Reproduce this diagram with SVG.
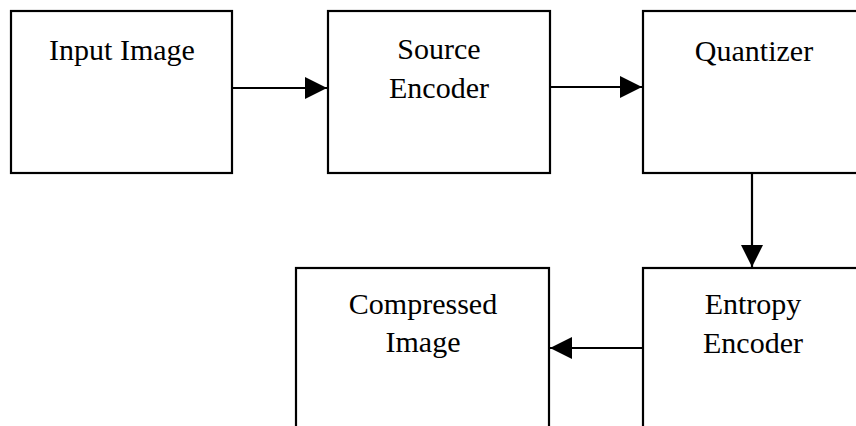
<svg xmlns="http://www.w3.org/2000/svg" width="856" height="426" viewBox="0 0 856 426">
<style>
.box{fill:#fff;stroke:#000;stroke-width:2.2}
.lbl{font-family:'Liberation Serif','Times New Roman','DejaVu Serif',serif;font-size:30px;fill:#000;text-anchor:middle}
.conn{stroke:#000;stroke-width:2.2;fill:none}
</style>
<defs>
<marker id="ah" markerUnits="userSpaceOnUse" markerWidth="24" markerHeight="22" refX="22" refY="11" orient="auto">
<path d="M0,0 L22,11 L0,22 Z" fill="#000"/>
</marker>
</defs>
<rect width="856" height="426" fill="#fff"/>
<g id="input-image">
<rect class="box" x="11" y="11" width="221" height="162"/>
<text class="lbl" x="122" y="60">Input Image</text>
</g>
<g id="source-encoder">
<rect class="box" x="328" y="11" width="222" height="162"/>
<text class="lbl" x="439" y="59">Source</text>
<text class="lbl" x="439" y="98">Encoder</text>
</g>
<g id="quantizer">
<rect class="box" x="643" y="11" width="230" height="162"/>
<text class="lbl" x="754" y="61">Quantizer</text>
</g>
<g id="entropy-encoder">
<rect class="box" x="643" y="268" width="230" height="170"/>
<text class="lbl" x="753" y="314">Entropy</text>
<text class="lbl" x="753" y="353">Encoder</text>
</g>
<g id="compressed-image">
<rect class="box" x="296" y="268" width="253" height="170"/>
<text class="lbl" x="423" y="314">Compressed</text>
<text class="lbl" x="423" y="352">Image</text>
</g>
<g id="connectors">
<line class="conn" x1="232" y1="88" x2="327" y2="88" marker-end="url(#ah)"/>
<line class="conn" x1="550" y1="87" x2="642" y2="87" stroke-width="3" marker-end="url(#ah)"/>
<line class="conn" x1="752" y1="173" x2="752" y2="267" marker-end="url(#ah)"/>
<line class="conn" x1="643" y1="348" x2="550" y2="348" marker-end="url(#ah)"/>
</g>
</svg>
